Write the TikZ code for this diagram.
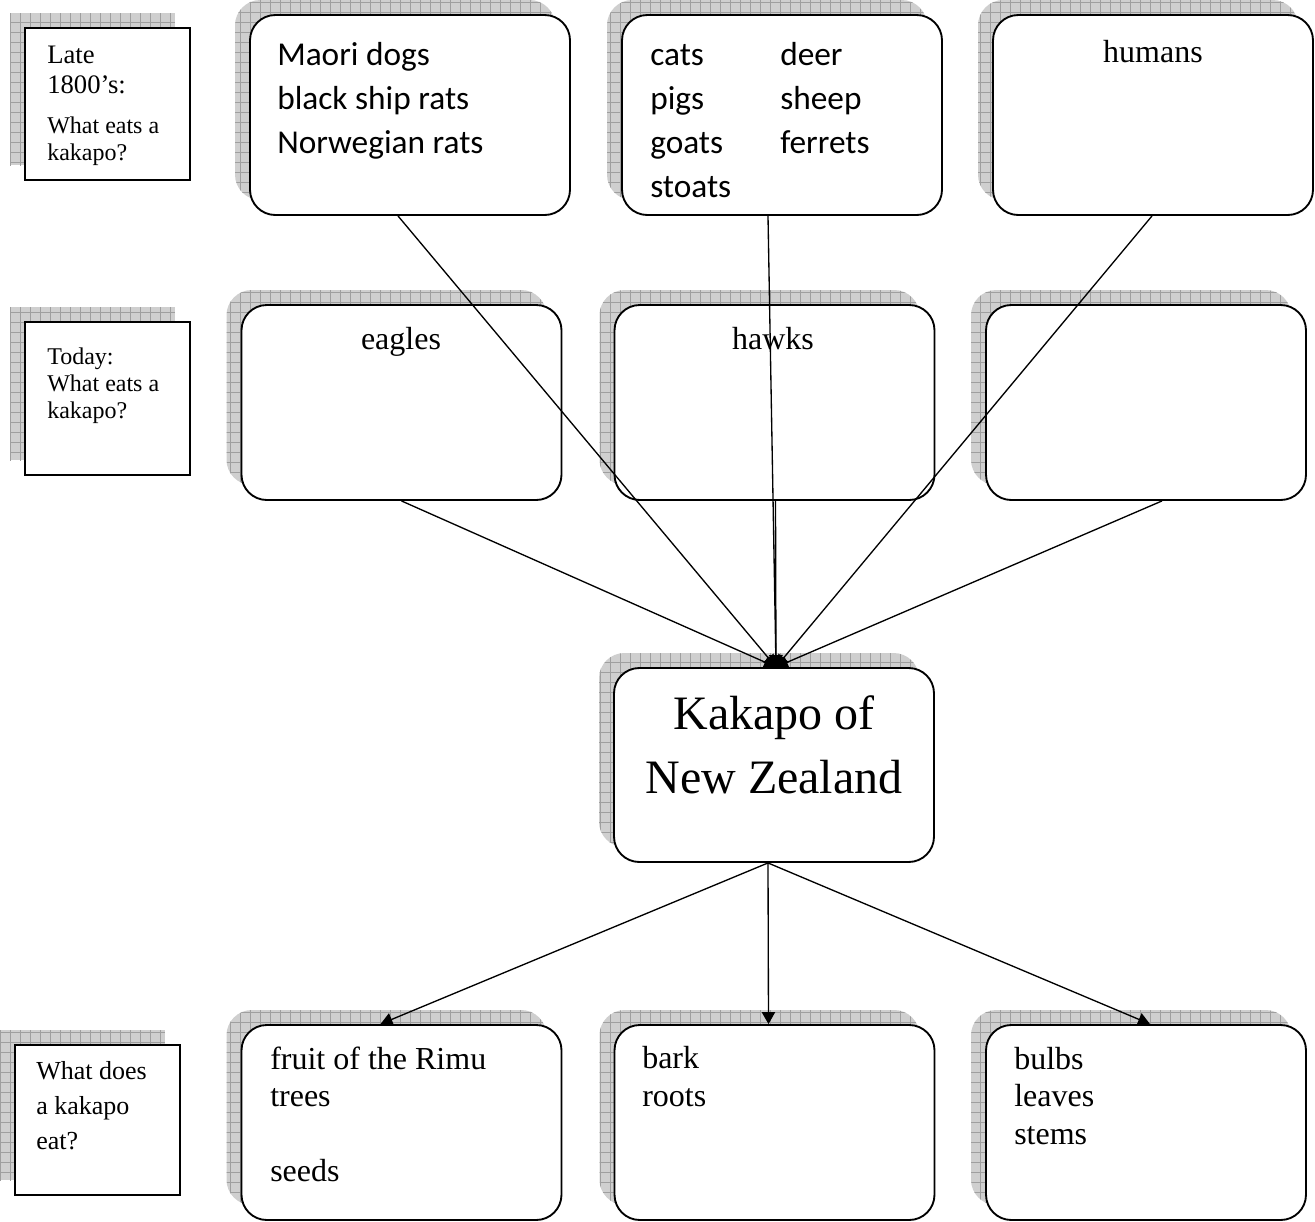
\documentclass[tikz,border=0pt]{standalone}
\usepackage{fontspec}
\setmainfont{Liberation Serif}
\newfontfamily\calfont{Carlito}
\usetikzlibrary{shadows,patterns.meta,arrows.meta,calc}
\begin{document}
\begin{tikzpicture}[x=0.75pt,y=-0.75pt,
  gridshade/.style={
    general shadow={shadow xshift=-11.25pt,shadow yshift=11.25pt,draw=none,fill=gray!38},
    general shadow={shadow xshift=-11.25pt,shadow yshift=11.25pt,draw=none,
      pattern={Hatch[angle=0,distance=7.5pt,line width=0.35pt]},pattern color=gray!75}},
  roundbox/.style={draw,line width=1.4pt,rounded corners=19pt,fill=white,
    minimum width=240pt,minimum height=#1,inner sep=0pt,gridshade},
  labelbox/.style={draw,line width=1.3pt,fill=white,minimum width=123.75pt,
    minimum height=#1,inner sep=0pt,gridshade},
  ctext/.style={font=\calfont\fontsize{25}{33}\selectfont,align=left,inner sep=0pt,anchor=base west},
  ttext/.style={font=\fontsize{24}{28}\selectfont,align=left,inner sep=0pt,anchor=base west},
  ltext/.style={font=\fontsize{18}{20}\selectfont,align=left,inner sep=0pt,anchor=base west},
  conn/.style={line width=1pt,-{Triangle[length=9pt,width=10pt]}}
]
\useasboundingbox (0,0) rectangle (1315,1222);

% label boxes
\node[labelbox=114pt] (L1) at (107.5,104) {};
\node[labelbox=114.75pt] (L2) at (107.5,398.5) {};
\node[labelbox=112.5pt] (L3) at (97.5,1120) {};

% top row
\node[roundbox=150pt] (b1) at (410,115) {};
\node[roundbox=150pt] (b2) at (782,115) {};
\node[roundbox=150pt] (b3) at (1153,115) {};
% middle row
\node[roundbox=146.25pt] (m1) at (401.5,402.5) {};
\node[roundbox=146.25pt] (m2) at (774.5,402.5) {};
\node[roundbox=146.25pt] (m3) at (1146,402.5) {};
% centre
\node[roundbox=145.5pt] (kak) at (774,765) {};
% bottom row
\node[roundbox=146.25pt] (f1) at (401.5,1122.5) {};
\node[roundbox=146.25pt] (f2) at (774.5,1122.5) {};
\node[roundbox=146.25pt] (f3) at (1146,1122.5) {};

% texts (anchor = baseline of the last line)
\node[ltext,font=\fontsize{20}{22.5}\selectfont] (l1a) at (47,93) {Late\\1800’s:};
\node[ltext] (l1b) at (47,160) {What eats a\\kakapo?};
\node[ltext] (l2) at (47,418) {Today:\\What eats a\\kakapo?};
\node[ltext,font=\fontsize{19.5}{26}\selectfont] (l3) at (36,1149) {What does\\a kakapo\\eat?};

\node[ctext] (t1) at (277,153) {Maori dogs\\black ship rats\\Norwegian rats};
\node[ctext] (t2a) at (650,197) {cats\\pigs\\goats\\stoats};
\node[ctext] (t2b) at (780,153) {deer\\sheep\\ferrets};
\node[ttext,anchor=base] (t3) at (1153,62) {humans};
\node[ttext,anchor=base] (t4) at (401,349) {eagles};
\node[ttext,anchor=base] (t5) at (773,349) {hawks};
\node[font=\fontsize{36}{48}\selectfont,align=center,inner sep=0pt,anchor=base] (tk) at (774,793) {Kakapo of\\New Zealand};
\node[ttext] (t7) at (270,1181) {fruit of the Rimu\\trees\\[28pt]seeds};
\node[ttext] (t8) at (642,1106) {bark\\roots};
\node[ttext] (t9) at (1014,1144) {bulbs\\leaves\\stems};

% connectors
\draw[conn] ($(b1.south)+(-12,0)$) -- ($(kak.north)+(2,0)$);
\draw[conn] ($(b2.south)+(-14,0)$) -- ($(kak.north)+(2,0)$);
\draw[conn] ($(b3.south)+(-1,0)$) -- ($(kak.north)+(2,0)$);
\draw[conn] (m1.south) -- ($(kak.north)+(2,0)$);
\draw[conn] ($(m2.south)+(1,0)$) -- ($(kak.north)+(2,0)$);
\draw[conn] ($(m3.south)+(16,0)$) -- ($(kak.north)+(2,0)$);

\draw[conn] ($(kak.south)+(-6,0)$) -- ($(f1.north)+(-21,0)$);
\draw[conn] ($(kak.south)+(-6,0)$) -- ($(f2.north)+(-6,0)$);
\draw[conn] ($(kak.south)+(-6,0)$) -- ($(f3.north)+(4,0)$);
\end{tikzpicture}
\end{document}
